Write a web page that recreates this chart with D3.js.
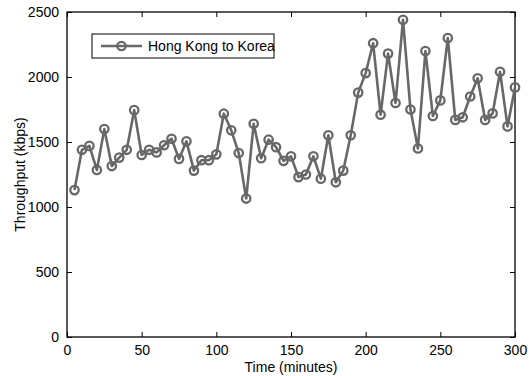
<!DOCTYPE html>
<html>
<head>
<meta charset="utf-8">
<script src="https://cdn.jsdelivr.net/npm/d3@7"></script>
<style>
  html, body { margin: 0; padding: 0; background: #fff; }
  svg { display: block; font-family: "Liberation Sans", Arial, Helvetica, sans-serif; }
</style>
</head>
<body>
<svg id="chart" width="532" height="376"></svg>
<script>
// Throughput measured every 5 minutes, Hong Kong to Korea
const seriesName = "Hong Kong to Korea";
const times = d3.range(5, 301, 5);
const throughput = [
  1130, 1440, 1470, 1285, 1600, 1315, 1380, 1440, 1745, 1400,
  1440, 1420, 1475, 1525, 1370, 1505, 1280, 1360, 1360, 1405,
  1718, 1590, 1415, 1065, 1640, 1375, 1518, 1460, 1355, 1390,
  1230, 1250, 1390, 1218, 1552, 1190, 1280, 1552, 1880, 2030,
  2260, 1710, 2180, 1800, 2440, 1750, 1450, 2200, 1700, 1820,
  2300, 1670, 1690, 1850, 1990, 1670, 1720, 2040, 1620, 1920
];
const xTicks = [0, 50, 100, 150, 200, 250, 300];
const yTicks = [0, 500, 1000, 1500, 2000, 2500];

const svg = d3.select("#chart");
const plotLeft = 67, plotRight = 515, plotTop = 12, plotBottom = 337;
const color = "#686868";
const fontSize = "14px";

const x = d3.scaleLinear().domain([0, 300]).range([plotLeft, plotRight]);
const y = d3.scaleLinear().domain([0, 2500]).range([plotBottom, plotTop]);

const data = times.map((t, i) => ({ t, v: throughput[i] }));

// Axes with inward ticks on all four sides
const tickLen = 5;
const axisStyle = g => {
  g.select(".domain").remove();
  g.selectAll(".tick line").attr("stroke", "#000").attr("stroke-width", 1);
  g.selectAll(".tick text").attr("fill", "#000").style("font-size", fontSize);
};

svg.append("g")
  .attr("transform", `translate(0,${plotBottom})`)
  .call(d3.axisBottom(x).tickValues(xTicks).tickFormat(d3.format("d"))
    .tickSizeInner(-tickLen).tickSizeOuter(0).tickPadding(8))
  .call(axisStyle);
svg.append("g")
  .attr("transform", `translate(0,${plotTop})`)
  .call(d3.axisTop(x).tickValues(xTicks).tickSizeInner(-tickLen).tickSizeOuter(0).tickFormat(""))
  .call(axisStyle);
svg.append("g")
  .attr("transform", `translate(${plotLeft},0)`)
  .call(d3.axisLeft(y).tickValues(yTicks).tickFormat(d3.format("d"))
    .tickSizeInner(-tickLen).tickSizeOuter(0).tickPadding(8))
  .call(axisStyle);
svg.append("g")
  .attr("transform", `translate(${plotRight},0)`)
  .call(d3.axisRight(y).tickValues(yTicks).tickSizeInner(-tickLen).tickSizeOuter(0).tickFormat(""))
  .call(axisStyle);

// Plot frame
svg.append("rect")
  .attr("x", plotLeft).attr("y", plotTop)
  .attr("width", plotRight - plotLeft).attr("height", plotBottom - plotTop)
  .attr("fill", "none").attr("stroke", "#000").attr("stroke-width", 1.3);

// Series line and circle markers
svg.append("path")
  .datum(data)
  .attr("fill", "none")
  .attr("stroke", color)
  .attr("stroke-width", 2.6)
  .attr("stroke-linejoin", "round")
  .attr("d", d3.line().x(d => x(d.t)).y(d => y(d.v)));

svg.append("g").selectAll("circle")
  .data(data)
  .join("circle")
  .attr("cx", d => x(d.t))
  .attr("cy", d => y(d.v))
  .attr("r", 4.2)
  .attr("fill", "none")
  .attr("stroke", color)
  .attr("stroke-width", 2.3);

// Axis titles
svg.append("text")
  .attr("x", 291).attr("y", 372)
  .attr("text-anchor", "middle")
  .style("font-size", fontSize)
  .text("Time (minutes)");
svg.append("text")
  .attr("transform", `translate(25,${(plotTop + plotBottom) / 2}) rotate(-90)`)
  .attr("text-anchor", "middle")
  .style("font-size", fontSize)
  .text("Throughput (kbps)");

// Legend
const lg = svg.append("g");
lg.append("rect")
  .attr("x", 92).attr("y", 34).attr("width", 182).attr("height", 24)
  .attr("fill", "#fff").attr("stroke", "#000").attr("stroke-width", 1);
lg.append("line")
  .attr("x1", 101).attr("x2", 142).attr("y1", 46).attr("y2", 46)
  .attr("stroke", color).attr("stroke-width", 2.6);
lg.append("circle")
  .attr("cx", 121.5).attr("cy", 46).attr("r", 4.2)
  .attr("fill", "none").attr("stroke", color).attr("stroke-width", 2.3);
lg.append("text")
  .attr("x", 148).attr("y", 51)
  .style("font-size", fontSize)
  .text(seriesName);
</script>
</body>
</html>
